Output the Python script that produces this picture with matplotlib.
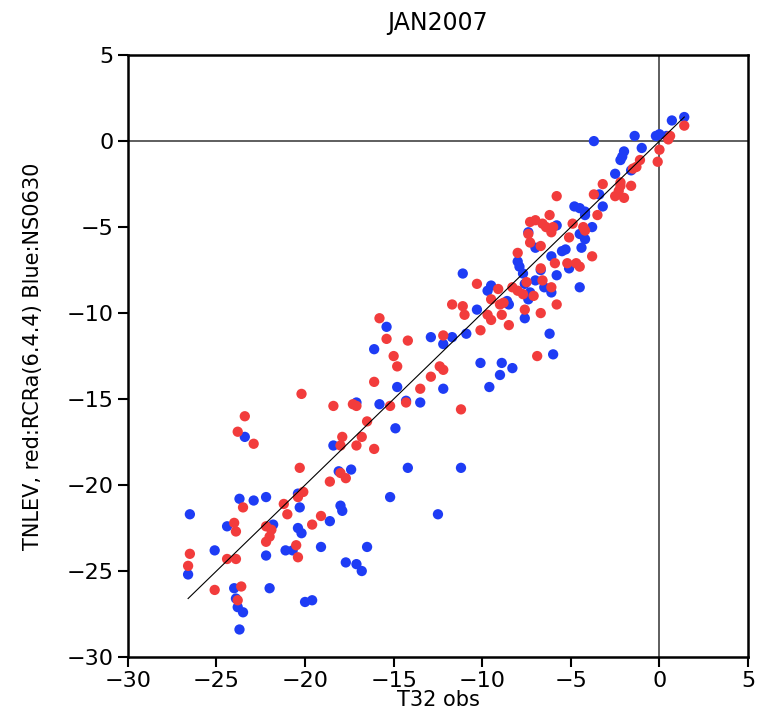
import matplotlib
matplotlib.use("Agg")
import matplotlib.pyplot as plt
import numpy as np

# observed T32 (x) vs model TNLEV (y), two runs
red_obs = [-23.4, -23.8, -22.9, -20.3, -23.5, -21.2, -21.0, -24.0, -23.9, -22.2,
           -21.9, -22.0, -22.2, -20.5, -20.4, -26.5, -26.6, -24.4, -23.9, -25.1,
           -23.6, -23.8, -20.2, -18.4, -17.3, -17.1, -16.1, -15.2, -16.5, -17.9,
           -18.0, -17.1, -16.8, -16.1, -18.0, -17.7, -18.6, -20.4, -20.1, -19.1,
           -19.6, -15.8, -15.4, -14.2, -15.0, -14.8, -13.5, -14.3, -8.0, -10.3,
           -9.1, -8.3, -8.0, -7.7, -9.5, -8.8, -9.0, -11.7, -11.1, -11.0,
           -9.7, -9.5, -8.9, -8.5, -7.6, -10.1, -12.2, -12.4, -12.2, -12.9,
           -11.2, -6.9, -3.8, -5.8, -6.7, -7.1, -6.1, -6.6, -7.5, -6.7,
           -5.9, -5.2, -4.7, -4.5, -3.2, -5.8, -3.7, -3.5, -6.2, -7.3,
           -7.0, -6.6, -6.4, -6.1, -4.9, -4.3, -5.1, -7.4, -7.3, -6.7,
           -6.0, 1.4, 0.6, 0.5, 0.0, -0.1, -1.1, -1.3, -1.5, -2.2,
           -2.2, -1.6, -2.5, -2.0, -2.3, -4.2]
red_mod = [-16.0, -16.9, -17.6, -19.0, -21.3, -21.1, -21.7, -22.2, -22.7, -22.4,
           -22.6, -23.0, -23.3, -23.5, -24.2, -24.0, -24.7, -24.3, -24.3, -26.1,
           -25.9, -26.7, -14.7, -15.4, -15.3, -15.4, -14.0, -15.4, -16.3, -17.2,
           -17.7, -17.7, -17.2, -17.9, -19.3, -19.6, -19.8, -20.7, -20.4, -21.8,
           -22.3, -10.3, -11.5, -11.6, -12.5, -13.1, -14.4, -15.2, -6.5, -8.3,
           -8.6, -8.5, -8.7, -8.9, -9.2, -9.4, -9.5, -9.5, -9.6, -10.1,
           -10.1, -10.4, -10.1, -10.7, -9.8, -11.0, -11.3, -13.1, -13.3, -13.7,
           -15.6, -12.5, -6.7, -9.5, -10.0, -9.0, -8.5, -8.1, -8.2, -7.4,
           -7.1, -7.1, -7.1, -7.3, -2.5, -3.2, -3.1, -4.3, -4.3, -4.7,
           -4.6, -4.8, -5.0, -5.3, -4.8, -5.0, -5.6, -5.4, -5.9, -6.1,
           -5.0, 0.9, 0.3, 0.1, -0.5, -1.2, -1.1, -1.5, -1.6, -2.4,
           -2.6, -2.6, -3.2, -3.3, -2.9, -5.2]

blue_obs = [-23.4, -23.7, -22.9, -22.2, -26.5, -24.4, -21.8, -20.4, -20.2, -21.1,
            -20.7, -25.1, -26.6, -22.2, -24.0, -22.0, -23.9, -23.8, -23.5, -23.7,
            -20.0, -19.6, -17.1, -15.8, -14.8, -14.9, -18.4, -18.1, -17.4, -20.4,
            -20.3, -18.0, -17.9, -18.6, -19.1, -17.7, -17.1, -16.8, -16.5, -15.2,
            -15.4, -16.1, -14.3, -13.5, -14.2, -11.2, -12.5, -8.0, -7.9, -11.1,
            -9.5, -9.7, -7.6, -8.6, -8.5, -10.3, -7.6, -10.9, -11.7, -12.9,
            -12.2, -10.1, -8.9, -8.3, -9.0, -9.6, -12.2, -6.0, -6.2, -4.5,
            -7.3, -7.0, -6.7, -7.7, -5.1, -5.8, -6.1, -5.5, -5.3, -4.4,
            -4.2, -3.8, -5.8, -7.0, -3.4, -4.8, -4.5, -4.2, -7.4, -6.5,
            -6.1, -7.4, 1.4, 0.7, 0.0, -0.2, 0.4, -1.4, -3.7, -1.0,
            -2.0, -2.1, -2.2, -1.6, -2.5, -3.2, -4.5, -4.2]
blue_mod = [-17.2, -20.8, -20.9, -20.7, -21.7, -22.4, -22.3, -22.5, -22.8, -23.8,
            -23.8, -23.8, -25.2, -24.1, -26.0, -26.0, -26.6, -27.1, -27.4, -28.4,
            -26.8, -26.7, -15.2, -15.3, -14.3, -16.7, -17.7, -19.2, -19.1, -20.5,
            -21.3, -21.2, -21.5, -22.1, -23.6, -24.5, -24.6, -25.0, -23.6, -20.7,
            -10.8, -12.1, -15.1, -15.2, -19.0, -19.0, -21.7, -7.0, -7.3, -7.7,
            -8.4, -8.7, -8.3, -9.3, -9.5, -9.8, -10.3, -11.2, -11.4, -11.4,
            -11.8, -12.9, -12.9, -13.2, -13.6, -14.3, -14.4, -12.4, -11.2, -8.5,
            -8.8, -8.1, -7.5, -7.7, -7.4, -7.8, -6.7, -6.4, -6.3, -6.2,
            -5.7, -5.0, -4.9, -6.2, -3.1, -3.8, -3.9, -4.1, -5.3, -8.5,
            -8.8, -9.2, 1.4, 1.2, 0.4, 0.3, 0.3, 0.3, 0.0, -0.4,
            -0.6, -0.9, -1.1, -1.7, -1.9, -3.8, -5.4, -4.3]

title = "JAN2007"
xlabel = "T32 obs"
ylabel = "TNLEV, red:RCRa(6.4.4) Blue:NS0630"
ticks = [-30, -25, -20, -15, -10, -5, 0, 5]

plt.rcParams['font.family'] = ['DejaVu Sans']
plt.rcParams['axes.unicode_minus'] = True

fig = plt.figure(figsize=(7.61, 7.16), dpi=100)
ax = fig.add_axes([0.168, 0.0824, 0.815, 0.8406])

ax.axhline(0, color='#333333', lw=1.1, zorder=1)
ax.axvline(0, color='#333333', lw=1.1, zorder=1)

ax.scatter(blue_obs, blue_mod, s=55, c='#1e3cf5', edgecolors='none', zorder=2)
ax.scatter(red_obs, red_mod, s=55, c='#f23c3c', edgecolors='none', zorder=3)

# 1:1 line across the observed range
all_obs = np.array(red_obs + blue_obs)
xl = np.array([all_obs.min(), all_obs.max()])
ax.plot(xl, xl, color='black', lw=0.8, zorder=4)

ax.set_xlim(-30, 5)
ax.set_ylim(-30, 5)
ax.set_xticks(ticks)
ax.set_yticks(ticks)
ax.tick_params(direction='out', length=7, width=1.5, labelsize=16, pad=3)
for s in ax.spines.values():
    s.set_linewidth(1.8)

ax.set_title(title, fontsize=17, pad=18)
ax.set_xlabel(xlabel, fontsize=15, labelpad=-1)
ax.set_ylabel(ylabel, fontsize=15, labelpad=17)

plt.savefig("out.png", dpi=100)
